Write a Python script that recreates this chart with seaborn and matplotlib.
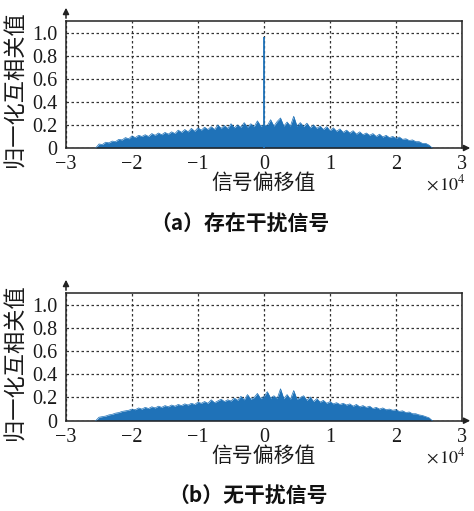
import numpy as np
import pandas as pd
import matplotlib
matplotlib.use("Agg")
import matplotlib.pyplot as plt
import seaborn as sns

# ---------------- data ----------------
lags = list(range(-25500, 25501, 500))   # signal offset

corr_a = [0.0, 0.035, 0.03, 0.05, 0.045, 0.06, 0.055, 0.075, 0.07, 0.09,
          0.08, 0.105, 0.09, 0.11, 0.10, 0.115, 0.10, 0.125, 0.11, 0.13,
          0.115, 0.135, 0.12, 0.14, 0.125, 0.155, 0.135, 0.16, 0.14, 0.17,
          0.145, 0.175, 0.155, 0.18, 0.16, 0.185, 0.16, 0.20, 0.17, 0.195,
          0.17, 0.21, 0.175, 0.20, 0.18, 0.22, 0.18, 0.21, 0.185, 0.235,
          0.19, 0.20, 0.195, 0.245, 0.19, 0.23, 0.26, 0.19, 0.225, 0.19,
          0.275, 0.19, 0.22, 0.185, 0.215, 0.175, 0.20, 0.17, 0.19, 0.16,
          0.185, 0.15, 0.175, 0.145, 0.165, 0.135, 0.155, 0.13, 0.15, 0.12,
          0.14, 0.115, 0.13, 0.11, 0.125, 0.10, 0.12, 0.095, 0.11, 0.09,
          0.10, 0.085, 0.095, 0.075, 0.08, 0.065, 0.07, 0.055, 0.055, 0.04,
          0.04, 0.025, 0.0]

peak_lag_a = [0]
peak_val_a = [0.96]

corr_b = [0.0, 0.03, 0.035, 0.04, 0.05, 0.055, 0.065, 0.07, 0.08, 0.085,
          0.09, 0.10, 0.095, 0.11, 0.10, 0.115, 0.105, 0.12, 0.11, 0.125,
          0.115, 0.13, 0.12, 0.135, 0.125, 0.14, 0.13, 0.145, 0.135, 0.15,
          0.14, 0.16, 0.15, 0.165, 0.15, 0.18, 0.155, 0.17, 0.185, 0.165,
          0.18, 0.17, 0.195, 0.175, 0.21, 0.18, 0.225, 0.185, 0.20, 0.235,
          0.19, 0.21, 0.25, 0.195, 0.215, 0.19, 0.275, 0.19, 0.225, 0.185,
          0.26, 0.185, 0.20, 0.215, 0.175, 0.205, 0.165, 0.19, 0.16, 0.175,
          0.15, 0.165, 0.145, 0.155, 0.14, 0.15, 0.135, 0.145, 0.125, 0.14,
          0.12, 0.13, 0.115, 0.125, 0.105, 0.115, 0.10, 0.11, 0.095, 0.10,
          0.09, 0.095, 0.08, 0.085, 0.07, 0.075, 0.06, 0.06, 0.05, 0.045,
          0.035, 0.025, 0.0]

xtick_vals = [-30000, -20000, -10000, 0, 10000, 20000, 30000]
xtick_labels = ["\u22123", "\u22122", "\u22121", "0", "1", "2", "3"]
ytick_vals = [0, 0.2, 0.4, 0.6, 0.8, 1.0]
ytick_labels = ["0", "0.2", "0.4", "0.6", "0.8", "1.0"]

xlabel = "信号偏移值"
ylabel = "归一化互相关值"
captions = ["（a）存在干扰信号", "（b）无干扰信号"]

# ---------------- style ----------------
sns.set_theme(style="white")
plt.rcParams["font.family"] = ["Liberation Serif", "Noto Sans CJK SC", "DejaVu Sans"]
plt.rcParams["mathtext.fontset"] = "stix"

COLOR = "#1f72b8"
CJK = ["Noto Sans CJK SC", "DejaVu Sans"]

W, H = 474, 511
fig = plt.figure(figsize=(W / 100, H / 100), dpi=100)

panels = [
    (corr_a, peak_lag_a, peak_val_a, 21, 148, captions[0], 240, 224),
    (corr_b, [], [], 293, 420.7, captions[1], 248, 496),
]

for corr, pk_lag, pk_val, top_px, bot_px, cap, cap_x, cap_y in panels:
    left_px, right_px = 66, 462
    ax = fig.add_axes([left_px / W, 1 - bot_px / H,
                       (right_px - left_px) / W, (bot_px - top_px) / H])
    df = pd.DataFrame({"lag": lags, "corr": corr})
    ax.fill_between(df["lag"], 0, df["corr"], color=COLOR, lw=0, zorder=2)
    sns.lineplot(data=df, x="lag", y="corr", ax=ax, color=COLOR, lw=0.5,
                 zorder=3, legend=False)
    if pk_lag:
        ax.vlines(pk_lag, 0, pk_val, color=COLOR, lw=1.3, zorder=3)

    ax.set_xlim(-30000, 30000)
    ax.set_ylim(0, 1.1)
    ax.set_xticks(xtick_vals)
    ax.set_xticklabels(xtick_labels)
    ax.set_yticks(ytick_vals)
    ax.set_yticklabels(ytick_labels)
    ax.tick_params(axis="both", length=0, labelsize=14.5, colors="#1a1a1a")
    ax.tick_params(axis="x", pad=5)
    ax.tick_params(axis="y", pad=6)
    ax.grid(True, color="#333333", linestyle=(0, (2, 2)), linewidth=0.9, zorder=1)
    ax.set_axisbelow(True)
    for s in ax.spines.values():
        s.set_color("#222222")
        s.set_linewidth(1.1)
    ax.set_xlabel("")
    ax.set_ylabel("")

    # axis labels
    fig.text(264 / W, 1 - (bot_px + 35) / H, xlabel, family=CJK, fontsize=15,
             ha="center", va="center", color="#1a1a1a")
    fig.text(15 / W, 1 - ((top_px + bot_px) / 2 + 5) / H, ylabel, family=CJK,
             fontsize=16, rotation=90, ha="center", va="center", color="#1a1a1a")
    fig.text(446 / W, 1 - (bot_px + 36) / H, r"$\times\,10^{4}$", fontsize=13,
             ha="center", va="center", color="#1a1a1a")

    # arrows on the axes
    fig.add_artist(matplotlib.patches.FancyArrowPatch(
        (left_px / W, 1 - top_px / H), (left_px / W, 1 - (top_px - 16) / H),
        transform=fig.transFigure, arrowstyle="-|>", mutation_scale=9,
        color="#222222", lw=1.1))
    fig.add_artist(matplotlib.patches.FancyArrowPatch(
        (right_px / W, 1 - bot_px / H), ((right_px + 11) / W, 1 - bot_px / H),
        transform=fig.transFigure, arrowstyle="-|>", mutation_scale=9,
        color="#222222", lw=1.1))

    # caption
    fig.text(cap_x / W, 1 - cap_y / H, cap, family=CJK, fontsize=15,
             fontweight="bold", ha="center", va="center", color="#111111")

fig.savefig("out.png", dpi=100)
